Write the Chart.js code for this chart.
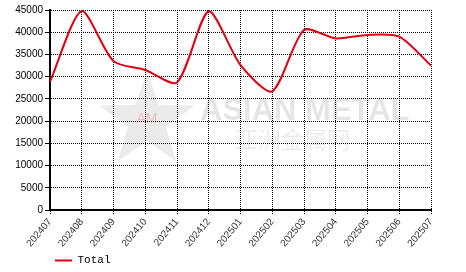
<!DOCTYPE html>
<html>
<head>
<meta charset="utf-8">
<script src="https://cdn.jsdelivr.net/npm/chart.js@4/dist/chart.umd.min.js"></script>
<style>
  html, body { margin: 0; padding: 0; background: #fff; }
  #wrap { width: 466px; height: 272px; }
</style>
</head>
<body>
<div id="wrap"><canvas id="chart" width="466" height="272"></canvas></div>
<script>
const months = ['202407', '202408', '202409', '202410', '202411', '202412', '202501',
  '202502', '202503', '202504', '202505', '202506', '202507'];
const totalValues = [28900, 44800, 33500, 31500, 28700, 44700, 32600,
  26700, 40500, 38600, 39400, 39000, 32500];
const yTicks = [0, 5000, 10000, 15000, 20000, 25000, 30000, 35000, 40000, 45000];

// faint logo behind the grid
const watermark = {
  id: 'watermark',
  beforeDraw(chart) {
    const ctx = chart.ctx;
    ctx.save();
    // star
    const cx = 147, cy = 121, R = 50, r = 20;
    ctx.beginPath();
    for (let i = 0; i < 10; i++) {
      const rad = i % 2 === 0 ? R : r;
      const a = -Math.PI / 2 + i * Math.PI / 5;
      const px = cx + rad * Math.cos(a), py = cy + rad * Math.sin(a);
      if (i === 0) ctx.moveTo(px, py); else ctx.lineTo(px, py);
    }
    ctx.closePath();
    ctx.fillStyle = 'rgba(0,0,0,0.08)';
    ctx.fill();
    ctx.fillStyle = 'rgba(230,60,60,0.25)';
    ctx.font = '14px "Liberation Sans", Arial, sans-serif';
    ctx.textAlign = 'center';
    ctx.textBaseline = 'middle';
    ctx.fillText('AM', cx, cy - 2);
    // text
    ctx.fillStyle = 'rgba(0,0,0,0.1)';
    ctx.textAlign = 'left';
    ctx.textBaseline = 'alphabetic';
    ctx.font = 'bold 31px "Liberation Sans", Arial, sans-serif';
    ctx.fillText('ASIAN METAL', 200, 120);
    ctx.fillStyle = 'rgba(0,0,0,0.08)';
    ctx.font = '23px "Noto Sans CJK SC", sans-serif';
    ctx.fillText('亚洲金属网', 235, 148);
    ctx.restore();
  }
};

new Chart(document.getElementById('chart'), {
  type: 'line',
  data: {
    labels: months,
    datasets: [{
      label: 'Total',
      data: totalValues,
      borderColor: '#e00012',
      backgroundColor: '#e00012',
      borderWidth: 2,
      pointRadius: 0,
      tension: 0.25,
      fill: false
    }]
  },
  options: {
    responsive: false,
    animation: false,
    layout: { padding: { top: 10, right: 35, left: 0, bottom: -4 } },
    plugins: {
      tooltip: { enabled: false },
      legend: {
        position: 'bottom',
        align: 'start',
        fullSize: false,
        labels: {
          usePointStyle: true,
          pointStyle: 'line',
          pointStyleWidth: 17,
          color: '#000',
          padding: 5,
          font: { family: '"Liberation Mono", "DejaVu Sans Mono", monospace', size: 11 }
        }
      }
    },
    scales: {
      x: {
        offset: false,
        afterFit(scale) { scale.height = 40; },
        grid: {
          color: '#000',
          lineWidth: 1,
          tickLength: 4,
          tickColor: '#000',
          tickBorderDash: [1, 1],
          tickWidth: 1
        },
        border: { color: '#000', width: 2, dash: [1, 1] },
        ticks: {
          color: '#333',
          maxRotation: 50,
          minRotation: 50,
          autoSkip: false,
          padding: 2,
          font: { family: '"Liberation Sans", Arial, sans-serif', size: 10 }
        }
      },
      y: {
        min: 0,
        max: 45000,
        afterBuildTicks(scale) {
          scale.ticks = yTicks.map(v => ({ value: v }));
        },
        afterFit(scale) { scale.width = 50; },
        grid: {
          color: '#000',
          lineWidth: 1,
          tickLength: 5,
          tickColor: '#000',
          tickBorderDash: [],
          tickWidth: 1
        },
        border: { color: '#000', width: 2, dash: [1, 1] },
        ticks: {
          color: '#000',
          padding: 2,
          callback: v => String(v),
          font: { family: '"Liberation Sans", Arial, sans-serif', size: 10 }
        }
      }
    }
  },
  plugins: [watermark]
});
</script>
</body>
</html>
